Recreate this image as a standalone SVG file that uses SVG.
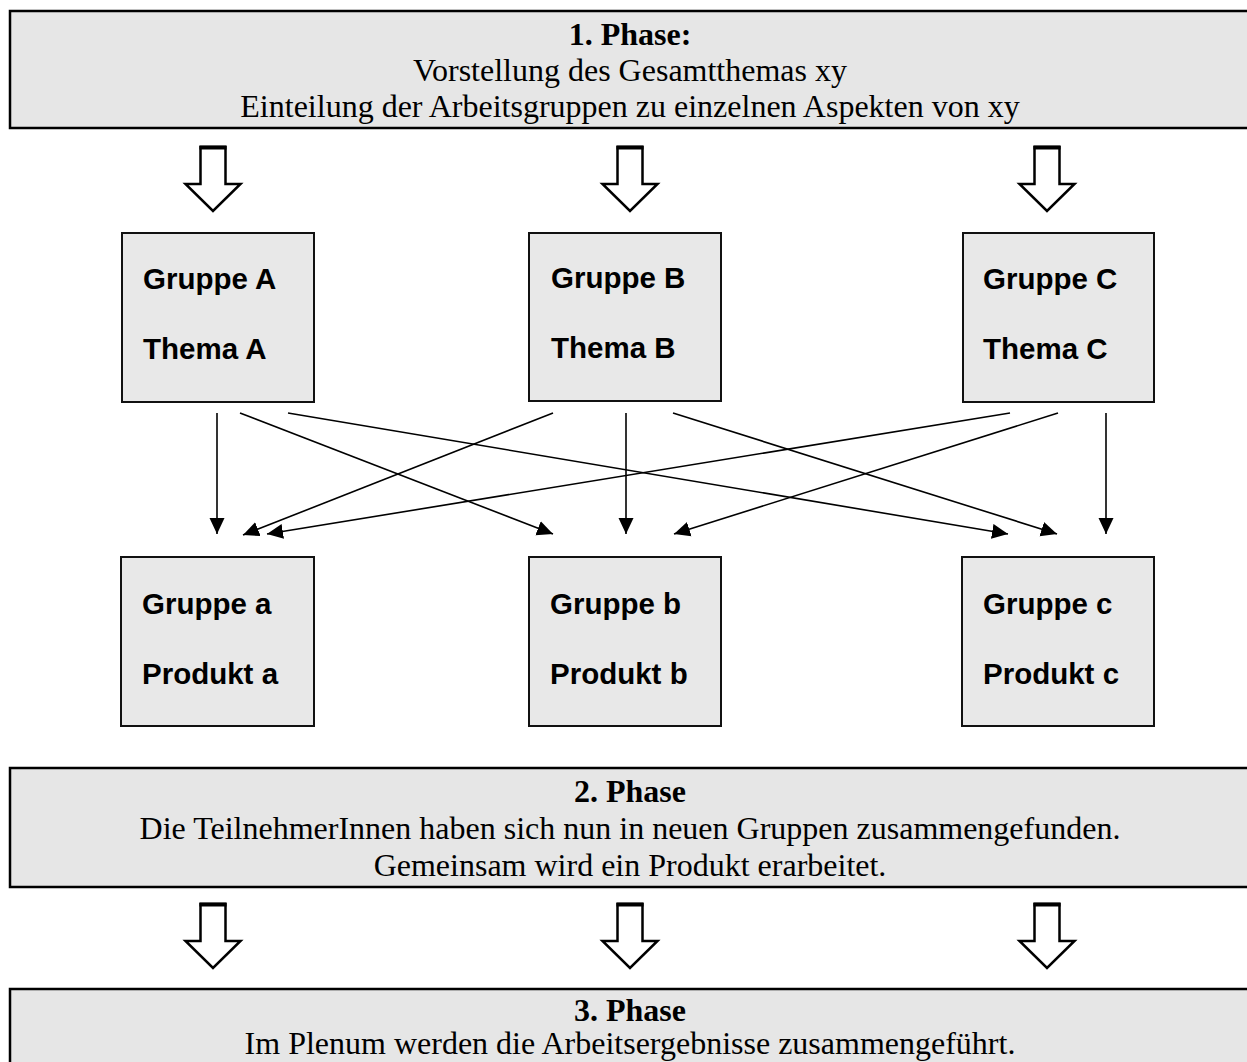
<svg xmlns="http://www.w3.org/2000/svg" width="1247" height="1062" viewBox="0 0 1247 1062">
<style>
.phase{fill:#e6e6e6;stroke:#000;stroke-width:2.5}
.box{fill:#e8e8e8;stroke:#111;stroke-width:2}
.pt{font-family:"Liberation Serif","Times New Roman",serif;font-size:32px;fill:#000;text-anchor:middle}
.pb{font-weight:bold}
.bt{font-family:"Liberation Sans",Arial,sans-serif;font-size:29.5px;font-weight:bold;fill:#000}
.blk{fill:#fff;stroke:#000;stroke-width:2.5;stroke-linejoin:miter}
.cap{stroke:#000;stroke-width:4}
.con{stroke:#000;stroke-width:1.6;fill:none;marker-end:url(#ah)}
</style>
<defs>
<marker id="ah" markerUnits="userSpaceOnUse" markerWidth="16" markerHeight="16" viewBox="0 0 16 16" refX="16" refY="8" orient="auto">
<path d="M0,0.5 L16,8 L0,15.5 Z" fill="#000"/>
</marker>
<g id="blockArrow">
<polygon class="blk" points="-12.5,0 12.5,0 12.5,37 27.5,37 0,64 -27.5,37 -12.5,37"/>
<line class="cap" x1="-13.5" y1="0.5" x2="13.5" y2="0.5"/>
</g>
</defs>
<rect width="1247" height="1062" fill="#fff"/>

<g id="phase1">
<rect class="phase" x="10" y="11" width="1250" height="117"/>
<text class="pt pb" x="630" y="45">1. Phase:</text>
<text class="pt" x="630" y="81">Vorstellung des Gesamtthemas xy</text>
<text class="pt" x="630" y="117">Einteilung der Arbeitsgruppen zu einzelnen Aspekten von xy</text>
</g>

<g id="phase1-arrows">
<use href="#blockArrow" x="213" y="147"/>
<use href="#blockArrow" x="630" y="147"/>
<use href="#blockArrow" x="1047" y="147"/>
</g>

<g id="gruppeA">
<rect class="box" x="122" y="233" width="192" height="169"/>
<text class="bt" x="143" y="289">Gruppe A</text>
<text class="bt" x="143" y="359">Thema A</text>
</g>
<g id="gruppeB">
<rect class="box" x="529" y="233" width="192" height="168"/>
<text class="bt" x="551" y="288">Gruppe B</text>
<text class="bt" x="551" y="358">Thema B</text>
</g>
<g id="gruppeC">
<rect class="box" x="963" y="233" width="191" height="169"/>
<text class="bt" x="983" y="289">Gruppe C</text>
<text class="bt" x="983" y="359">Thema C</text>
</g>

<g id="gruppe-a">
<rect class="box" x="121" y="557" width="193" height="169"/>
<text class="bt" x="142" y="614">Gruppe a</text>
<text class="bt" x="142" y="684">Produkt a</text>
</g>
<g id="gruppe-b">
<rect class="box" x="529" y="557" width="192" height="169"/>
<text class="bt" x="550" y="614">Gruppe b</text>
<text class="bt" x="550" y="684">Produkt b</text>
</g>
<g id="gruppe-c">
<rect class="box" x="962" y="557" width="192" height="169"/>
<text class="bt" x="983" y="614">Gruppe c</text>
<text class="bt" x="983" y="684">Produkt c</text>
</g>

<g id="connectors">
<line class="con" x1="217" y1="413" x2="217" y2="534"/>
<line class="con" x1="240" y1="413" x2="553" y2="534"/>
<line class="con" x1="288" y1="413" x2="1008" y2="534"/>
<line class="con" x1="553" y1="413" x2="243" y2="535"/>
<line class="con" x1="626" y1="413" x2="626" y2="534"/>
<line class="con" x1="673" y1="413" x2="1057" y2="534"/>
<line class="con" x1="1010" y1="413" x2="267" y2="534"/>
<line class="con" x1="1058" y1="413" x2="674" y2="534"/>
<line class="con" x1="1106" y1="413" x2="1106" y2="534"/>
</g>

<g id="phase2">
<rect class="phase" x="10" y="768" width="1250" height="119"/>
<text class="pt pb" x="630" y="802">2. Phase</text>
<text class="pt" x="630" y="839">Die TeilnehmerInnen haben sich nun in neuen Gruppen zusammengefunden.</text>
<text class="pt" x="630" y="876">Gemeinsam wird ein Produkt erarbeitet.</text>
</g>

<g id="phase2-arrows">
<use href="#blockArrow" x="213" y="904"/>
<use href="#blockArrow" x="630" y="904"/>
<use href="#blockArrow" x="1047" y="904"/>
</g>

<g id="phase3">
<rect class="phase" x="10" y="989" width="1250" height="100"/>
<text class="pt pb" x="630" y="1021">3. Phase</text>
<text class="pt" x="630" y="1054">Im Plenum werden die Arbeitsergebnisse zusammengeführt.</text>
</g>
</svg>
